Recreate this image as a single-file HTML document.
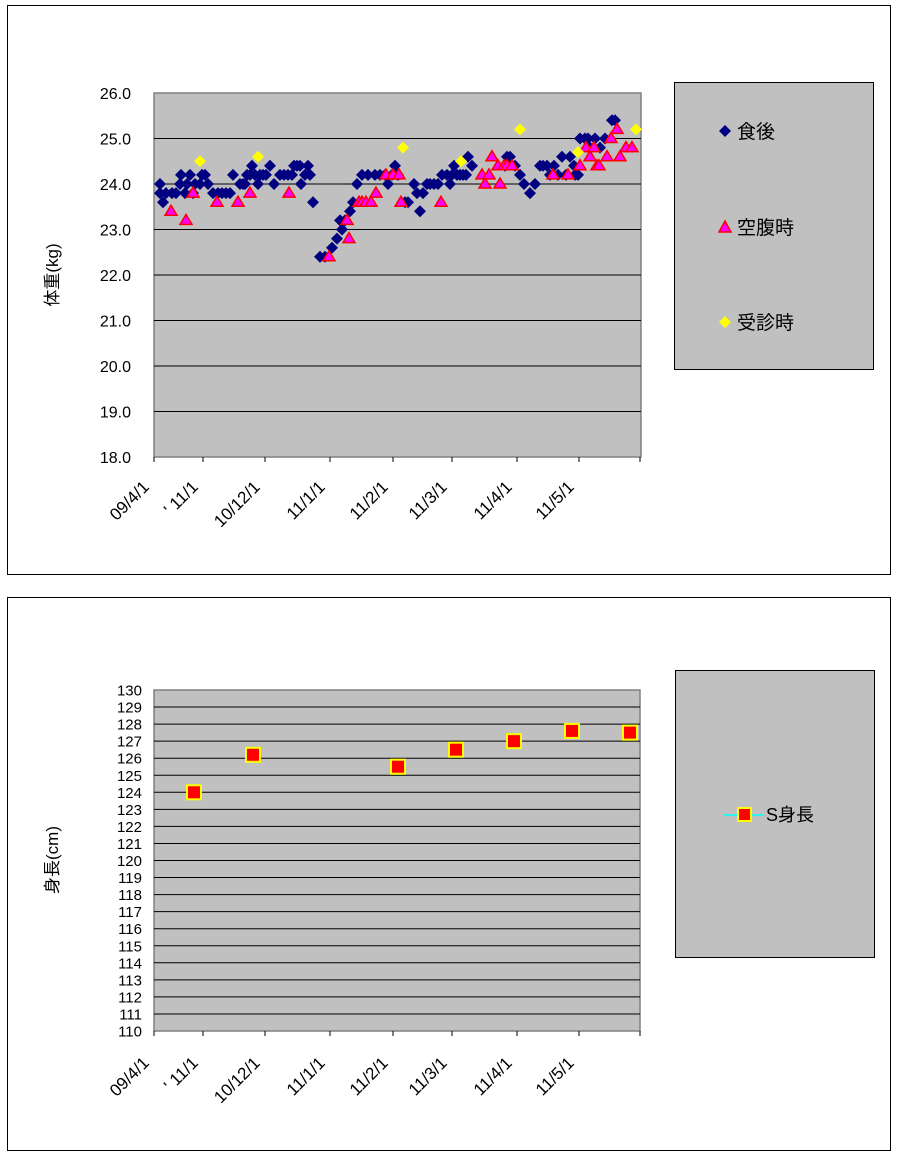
<!DOCTYPE html>
<html><head><meta charset="utf-8"><style>
body{margin:0;background:#fff;}
svg text{font-family:"Liberation Sans","Noto Sans CJK JP",sans-serif;fill:#000;}
</style></head><body>
<svg id="s" width="900" height="1160" xmlns="http://www.w3.org/2000/svg">
<rect x="7.5" y="5.5" width="883" height="569" fill="#fff" stroke="#000"/>
<rect x="7.5" y="597.5" width="883" height="553" fill="#fff" stroke="#000"/>
<rect x="154" y="93" width="487" height="364" fill="#c0c0c0" stroke="#808080" stroke-width="1.5"/>
<rect x="154" y="690" width="486" height="341" fill="#c0c0c0" stroke="#808080" stroke-width="1.5"/>
<rect x="674.5" y="82.5" width="199" height="287" fill="#c0c0c0" stroke="#000"/>
<rect x="675.5" y="670.5" width="199" height="287" fill="#c0c0c0" stroke="#000"/>
<g id="g"></g>
<text transform="translate(58,275) rotate(-90)" text-anchor="middle" font-size="17">体重(kg)</text>
<text transform="translate(58,860) rotate(-90)" text-anchor="middle" font-size="17">身長(cm)</text>
<polygon points="725,125 731,131 725,137 719,131" fill="#000080"/>
<text x="737" y="138" font-size="19">食後</text>
<polygon points="725,221 731,232 719,232" fill="#ff00ff" stroke="#ff0000" stroke-width="1.5"/>
<text x="737" y="234" font-size="19">空腹時</text>
<polygon points="725,316 731,322 725,328 719,322" fill="#ffff00"/>
<text x="737" y="329" font-size="19">受診時</text>
<line x1="724" y1="815" x2="764" y2="815" stroke="#00ffff" stroke-width="1.5"/>
<rect x="738" y="808" width="13" height="13" fill="#ff0000" stroke="#ffff00" stroke-width="2"/>
<text x="766" y="821" font-size="18">S身長</text>
</svg>
<script>
var g=document.getElementById('g'),h='';
function Y1(v){return 457-(v-18)*45.5;}
function Y2(v){return 1031-(v-110)*17.05;}
for(var v=19;v<=25;v++)h+='<line x1="154" x2="641" y1="'+Y1(v)+'" y2="'+Y1(v)+'" stroke="#000"/>';
for(var v=18;v<=26;v++)h+='<text x="131" y="'+(Y1(v)+6)+'" text-anchor="end" font-size="16">'+v.toFixed(1)+'</text>';
for(var v=111;v<=129;v++)h+='<line x1="154" x2="640" y1="'+Y2(v)+'" y2="'+Y2(v)+'" stroke="#000"/>';
for(var v=110;v<=130;v++)h+='<text x="142" y="'+(Y2(v)+5.5)+'" text-anchor="end" font-size="15">'+v+'</text>';
var tx=[154,203,265,330,393,452,517,579,640];
for(var i=0;i<tx.length;i++){h+='<line x1="'+tx[i]+'" x2="'+tx[i]+'" y1="457" y2="462" stroke="#000"/><line x1="'+tx[i]+'" x2="'+tx[i]+'" y1="1031" y2="1036" stroke="#000"/>';}
var lb=["09/4/1","' 11/1","10/12/1","11/1/1","11/2/1","11/3/1","11/4/1","11/5/1"];
for(var i=0;i<lb.length;i++){
h+='<text transform="translate('+(tx[i]-4)+',488) rotate(-45)" text-anchor="end" font-size="17">'+lb[i]+'</text>';
h+='<text transform="translate('+(tx[i]-4)+',1064) rotate(-45)" text-anchor="end" font-size="17">'+lb[i]+'</text>';}
var B=[160,24.0,160,23.8,163,23.6,166,23.8,172,23.8,176,23.8,180,24.0,181,24.2,185,23.8,187,24.0,190,24.2,193,23.8,195,24.0,200,24.0,202,24.2,205,24.2,208,24.0,213,23.8,218,23.8,222,23.8,226,23.8,230,23.8,233,24.2,240,24.0,243,24.0,245,24.0,247,24.2,250,24.2,252,24.4,255,24.2,258,24.0,260,24.2,263,24.2,266,24.2,270,24.4,274,24.0,280,24.2,284,24.2,288,24.2,292,24.2,294,24.4,297,24.4,300,24.4,301,24.0,305,24.2,308,24.4,310,24.2,313,23.6,320,22.4,325,22.4,332,22.6,337,22.8,340,23.2,342,23.0,345,23.2,350,23.4,353,23.6,357,24.0,362,24.2,368,24.2,375,24.2,380,24.2,385,24.2,388,24.0,392,24.2,395,24.4,398,24.2,405,23.6,408,23.6,414,24.0,417,23.8,420,23.4,423,23.8,427,24.0,430,24.0,434,24.0,438,24.0,442,24.2,447,24.2,450,24.0,452,24.2,454,24.4,457,24.2,460,24.2,463,24.2,466,24.2,468,24.6,472,24.4,505,24.4,507,24.6,510,24.6,515,24.4,520,24.2,524,24.0,530,23.8,535,24.0,540,24.4,543,24.4,547,24.4,550,24.2,554,24.4,558,24.2,562,24.6,566,24.2,570,24.6,574,24.4,575,24.2,578,24.2,580,25.0,585,25.0,588,25.0,590,24.8,595,25.0,600,24.8,605,25.0,612,25.4,615,25.4];
var P=[171,23.4,186,23.2,193,23.8,217,23.6,238,23.6,250,23.8,289,23.8,329,22.4,347,23.2,349,22.8,359,23.6,362,23.6,366,23.6,371,23.6,376,23.8,386,24.2,393,24.2,399,24.2,401,23.6,441,23.6,482,24.2,485,24.0,489,24.2,492,24.6,498,24.4,500,24.0,504,24.4,507,24.4,512,24.4,553,24.2,568,24.2,580,24.4,586,24.8,590,24.6,594,24.8,597,24.4,599,24.4,607,24.6,611,25.0,617,25.2,620,24.6,626,24.8,632,24.8];
var Yl=[200,24.5,258,24.6,403,24.8,461,24.5,520,25.2,578,24.7,636,25.2];
function dia(x,y,c){return '<polygon points="'+x+','+(y-6)+' '+(x+6)+','+y+' '+x+','+(y+6)+' '+(x-6)+','+y+'" fill="'+c+'"/>';}
for(var i=0;i<B.length;i+=2)h+=dia(B[i],Y1(B[i+1]),'#000080');
for(var i=0;i<P.length;i+=2){var x=P[i],y=Y1(P[i+1]);h+='<polygon points="'+x+','+(y-6)+' '+(x+6)+','+(y+4)+' '+(x-6)+','+(y+4)+'" fill="#ff00ff" stroke="#ff0000" stroke-width="1.5"/>';}
for(var i=0;i<Yl.length;i+=2)h+=dia(Yl[i],Y1(Yl[i+1]),'#ffff00');
var S=[194,124.0,253,126.2,398,125.5,456,126.5,514,127.0,572,127.6,630,127.5];
for(var i=0;i<S.length;i+=2){var y=Y2(S[i+1]);h+='<rect x="'+(S[i]-7)+'" y="'+(y-7)+'" width="14" height="14" fill="#ff0000" stroke="#ffff00" stroke-width="2"/>';}
g.innerHTML=h;
</script>
</body></html>
